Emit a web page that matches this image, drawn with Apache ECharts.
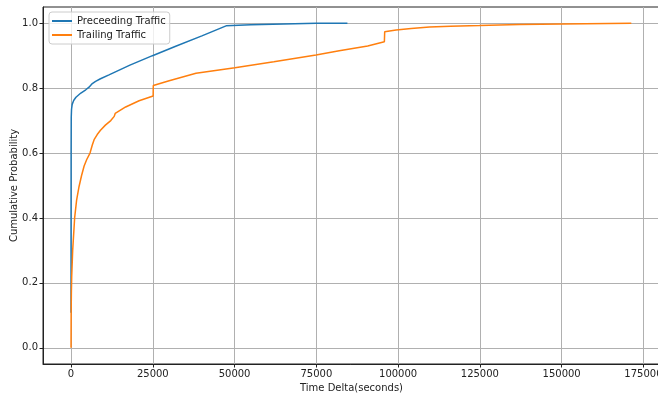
<!DOCTYPE html>
<html>
<head>
<meta charset="utf-8">
<script src="https://cdn.jsdelivr.net/npm/echarts@6/dist/echarts.min.js"></script>
<style>html,body{margin:0;padding:0;background:#fff}#c{width:658px;height:395px}</style>
</head>
<body>
<div id="c"></div>
<script>
const precX = [0, 0, 20, 60, 150, 350, 800, 1500, 3000, 4500, 5500, 6500, 7500, 9000, 11600, 18000, 24900, 32000, 40000, 47400, 55000, 65000, 75000, 84500];
const precY = [0.108, 0.3, 0.6, 0.71, 0.735, 0.75, 0.762, 0.772, 0.785, 0.795, 0.803, 0.814, 0.821, 0.829, 0.841, 0.871, 0.900, 0.929, 0.961, 0.992, 0.995, 0.998, 1.0, 1.0];
const trailX = [0, 30, 100, 200, 500, 1100, 1700, 2450, 3200, 4000, 4800, 5800, 6500, 7050, 8000, 9000, 10500, 12150, 13200, 13500, 16700, 20800, 25100, 25150, 30000, 38200, 50100, 62000, 74900, 82000, 90700, 91200, 95800, 95900, 99400, 104000, 109600, 116000, 124900, 137000, 150300, 171300];
const trailY = [0, 0.1, 0.17, 0.22, 0.3, 0.4, 0.455, 0.497, 0.53, 0.56, 0.58, 0.6, 0.625, 0.641, 0.657, 0.67, 0.686, 0.70, 0.713, 0.722, 0.742, 0.761, 0.776, 0.808, 0.823, 0.846, 0.863, 0.881, 0.902, 0.915, 0.930, 0.935, 0.943, 0.974, 0.979, 0.984, 0.988, 0.991, 0.993, 0.996, 0.998, 1.0];
const xTicks = [0, 25000, 50000, 75000, 100000, 125000, 150000, 175000];
const yTicks = [0, 0.2, 0.4, 0.6, 0.8, 1.0];
const seriesNames = ['Preceeding Traffic', 'Trailing Traffic'];

const zip = (a, b) => a.map((v, i) => [v, b[i]]);
const chart = echarts.init(document.getElementById('c'), null, {renderer: 'canvas'});
const font = 'DejaVu Sans';
chart.setOption({
  animation: false,
  backgroundColor: '#fff',
  textStyle: {fontFamily: font},
  grid: {left: 43, top: 7, width: 617, height: 357, containLabel: false, outerBoundsMode: 'none', show: true, borderColor: '#222', borderWidth: 1, backgroundColor: 'transparent'},
  legend: {
    left: 49, top: 12, orient: 'vertical',
    backgroundColor: 'rgba(255,255,255,0.8)', borderColor: '#cccccc', borderWidth: 1, borderRadius: 3,
    padding: [3, 4, 3, 3], itemGap: 2, itemWidth: 20, itemHeight: 2, icon: 'rect',
    textStyle: {fontFamily: font, fontSize: 10, color: '#222', lineHeight: 12},
    data: seriesNames
  },
  xAxis: {
    type: 'value', min: -8575, max: 180075,
    name: 'Time Delta(seconds)', nameLocation: 'middle', nameGap: 19,
    nameTextStyle: {fontFamily: font, fontSize: 10, color: '#222'},
    axisLine: {show: true, onZero: false, lineStyle: {color: '#222', width: 1}},
    axisTick: {show: true, customValues: xTicks, length: 3.5, lineStyle: {color: '#222'}},
    axisLabel: {customValues: xTicks, fontFamily: font, fontSize: 10, color: '#222', margin: 5, formatter: v => String(v)},
    splitLine: {show: true, lineStyle: {color: '#b0b0b0', width: 1}}
  },
  yAxis: {
    type: 'value', min: -0.05, max: 1.05,
    name: 'Cumulative Probability', nameLocation: 'middle', nameGap: 24, nameMoveOverlap: false,
    nameTextStyle: {fontFamily: font, fontSize: 10, color: '#222'},
    axisLine: {show: true, onZero: false, lineStyle: {color: '#222', width: 1}},
    axisTick: {show: true, customValues: yTicks, length: 3.5, lineStyle: {color: '#222'}},
    axisLabel: {customValues: yTicks, fontFamily: font, fontSize: 10, color: '#222', margin: 5, formatter: v => v.toFixed(1)},
    splitLine: {show: true, lineStyle: {color: '#b0b0b0', width: 1}}
  },
  series: [
    {name: seriesNames[0], type: 'line', showSymbol: false, data: zip(precX, precY), lineStyle: {color: '#1f77b4', width: 1.5}, itemStyle: {color: '#1f77b4'}},
    {name: seriesNames[1], type: 'line', showSymbol: false, data: zip(trailX, trailY), lineStyle: {color: '#ff7f0e', width: 1.5}, itemStyle: {color: '#ff7f0e'}}
  ]
});
</script>
</body>
</html>
